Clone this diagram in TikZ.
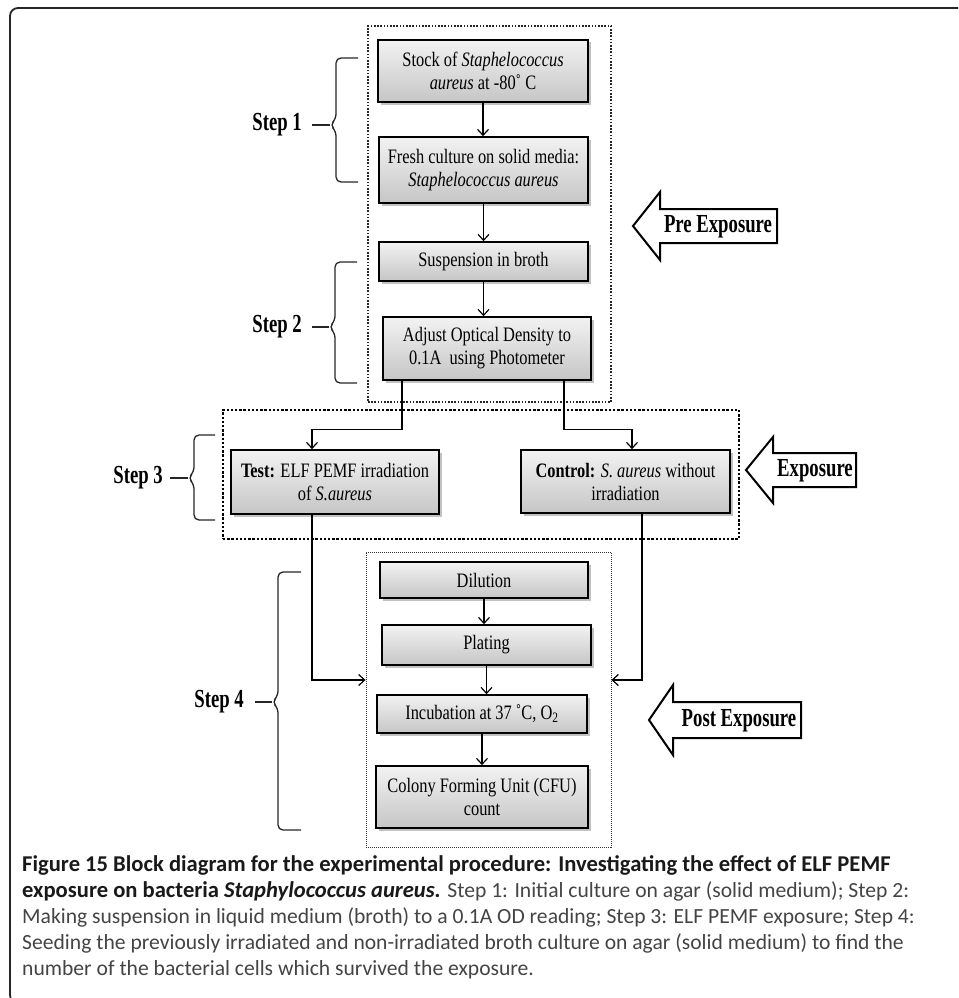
\documentclass[tikz,border=0pt]{standalone}
\usepackage{fontspec}
\setmainfont{Liberation Serif}
\newfontfamily\boxfont[FakeStretch=0.8]{Liberation Serif}
\newfontfamily\condbold[FakeStretch=0.72]{Liberation Serif Bold}
\newfontfamily\capfont{Carlito}
\usetikzlibrary{shadows,arrows.meta,calc}
\definecolor{capgray}{HTML}{444444}
\newcommand{\capbold}[1]{{\color{black!90}\fontsize{22.6}{26}\selectfont\bfseries #1}}
\tikzset{
  frameline/.style={draw=black!85, line width=1.8pt, rounded corners=8pt},
  box/.style={draw=black, line width=1.6pt, top color=gray!10, bottom color=gray!45,
    drop shadow={shadow xshift=2.5pt, shadow yshift=-2.5pt, fill=gray!80, opacity=0.6},
    font=\boxfont\fontsize{20.5}{23}\selectfont, align=center, inner sep=1pt},
  arr/.style={line width=1.2pt, -{Straight Barb[length=6pt,width=11pt,line width=1.2pt]}},
  predots/.style={draw=black!85, line width=1.8pt, dash pattern=on 1.6pt off 1.6pt},
  expdots/.style={draw=black, line width=2.6pt, dash pattern=on 2.4pt off 1.8pt},
  postdots/.style={draw=black!80, line width=0.9pt, dash pattern=on 1pt off 1pt},
  steplabel/.style={font=\condbold\fontsize{26}{28}\selectfont, inner sep=0pt},
  bracket/.style={draw=black!85, line width=1.3pt, rounded corners=5pt},
  blockarrow/.style={draw=black, line width=2pt, fill=white, line join=miter},
  arrowtext/.style={font=\condbold\fontsize{26}{28}\selectfont, inner sep=0pt},
}
\begin{document}
\begin{tikzpicture}[x=1pt,y=-1pt]
\path[use as bounding box] (0,0) rectangle (958,998);
\begin{scope}
  \clip (0,0) rectangle (958,998);
  \draw[frameline] (970,8) -- (10,8) -- (10,1003) -- (40,1003);
\end{scope}

% dotted group boxes
\node[predots, minimum width=243pt, minimum height=376pt, inner sep=0pt] (pre) at (489.5,214) {};
\node[expdots, minimum width=516pt, minimum height=129pt, inner sep=0pt] (expo) at (481,474.5) {};
\node[postdots, minimum width=245pt, minimum height=295pt, inner sep=0pt] (post) at (488.5,699.5) {};

% process boxes
\node[box, minimum width=210pt, minimum height=62pt] (stock) at (483,71)
  {Stock of \textit{Staphelococcus}\\ \textit{aureus} at -80˚ C};
\node[box, minimum width=209pt, minimum height=66pt] (fresh) at (483.5,170)
  {Fresh culture on solid media:\\ \textit{Staphelococcus aureus}};
\node[box, minimum width=209pt, minimum height=39pt] (susp) at (483.5,261.5)
  {Suspension in broth};
\node[box, minimum width=208pt, minimum height=63pt] (adjust) at (487,348.5)
  {Adjust Optical Density to\\ 0.1A\ \ using Photometer};
\node[box, minimum width=208pt, minimum height=64pt] (test) at (335,482)
  {\textbf{Test:} ELF PEMF irradiation\\ of \textit{S.aureus}};
\node[box, minimum width=209pt, minimum height=63pt] (control) at (625.5,481.5)
  {\textbf{Control:} \textit{S. aureus} without\\ irradiation};
\node[box, minimum width=208pt, minimum height=36pt] (dilution) at (484,580) {Dilution};
\node[box, minimum width=209pt, minimum height=40pt] (plating) at (486.5,645) {Plating};
\node[box, minimum width=210pt, minimum height=38pt] (incub) at (482,714)
  {Incubation at 37 ˚C, O\textsubscript{2}};
\node[box, minimum width=212pt, minimum height=62pt] (cfu) at (482,797)
  {Colony Forming Unit (CFU)\\ count};

% vertical flow arrows
\draw[arr] (stock.south) -- (stock.south |- fresh.north);
\draw[arr] (fresh.south) -- (fresh.south |- susp.north);
\draw[arr] (susp.south) -- (susp.south |- adjust.north);
\draw[arr] ([xshift=-85pt]adjust.south) -- ++(0,49) -| ([xshift=-23pt]test.north);
\draw[arr] ([xshift=77pt]adjust.south) -- ++(0,49) -| ([xshift=6.5pt]control.north);
\draw[arr] ([xshift=-23pt]test.south) |- ([yshift=19.5pt]post.west);
\draw[arr] ([xshift=16.5pt]control.south) |- ([yshift=19.5pt]post.east);
\draw[arr] (dilution.south) -- (dilution.south |- plating.north);
\draw[arr] (plating.south) -- (plating.south |- incub.north);
\draw[arr] (incub.south) -- (incub.south |- cfu.north);

% step labels and brackets
\node[steplabel, anchor=east] (s1) at (302,125) {Step 1};
\coordinate (c1) at (330,125);
\draw[bracket] (358,58) -- (336,58) -- (336,119) -- (c1) -- (336,131) -- (336,182) -- (358,182);
\draw[bracket] ([xshift=10pt]s1.east) -- (c1);

\node[steplabel, anchor=east] (s2) at (302,327) {Step 2};
\coordinate (c2) at (329,327);
\draw[bracket] (357,262) -- (335,262) -- (335,321) -- (c2) -- (335,333) -- (335,383) -- (357,383);
\draw[bracket] ([xshift=10pt]s2.east) -- (c2);

\node[steplabel, anchor=east] (s3) at (163,478) {Step 3};
\coordinate (c3) at (188,478);
\draw[bracket] (215,435) -- (194,435) -- (194,472) -- (c3) -- (194,484) -- (194,520) -- (215,520);
\draw[bracket] ([xshift=7pt]s3.east) -- (c3);

\node[steplabel, anchor=east] (s4) at (244,702) {Step 4};
\coordinate (c4) at (272,702);
\draw[bracket] (301,572) -- (278,572) -- (278,696) -- (c4) -- (278,708) -- (278,830) -- (301,830);
\draw[bracket] ([xshift=11pt]s4.east) -- (c4);

% block arrows
\draw[blockarrow] (633,226) -- (660,192) -- (660,209) -- (777,209) -- (777,243) -- (660,243) -- (660,260) -- cycle;
\node[arrowtext] (pretxt) at (718,227) {Pre Exposure};
\draw[blockarrow] (746,470) -- (773,437) -- (773,453) -- (856,453) -- (856,487) -- (773,487) -- (773,503) -- cycle;
\node[arrowtext] (exptxt) at (815,471) {Exposure};
\draw[blockarrow] (649,720) -- (673,685) -- (673,702) -- (801,702) -- (801,738) -- (673,738) -- (673,755) -- cycle;
\node[arrowtext] (posttxt) at (739,721) {Post Exposure};

% caption
\node[anchor=north west, align=left, inner sep=0pt, text=capgray,
      font=\capfont\fontsize{21.6}{26}\selectfont] (caption) at (22,855)
{\capbold{Figure 15 Block diagram for the experimental procedure: Investigating the effect of ELF PEMF}\\
\capbold{exposure on bacteria \textit{Staphylococcus aureus.}} Step 1: Initial culture on agar (solid medium); Step 2:\\
Making suspension in liquid medium (broth) to a 0.1A OD reading; Step 3: ELF PEMF exposure; Step 4:\\
Seeding the previously irradiated and non-irradiated broth culture on agar (solid medium) to find the\\
number of the bacterial cells which survived the exposure.};
\end{tikzpicture}
\end{document}
